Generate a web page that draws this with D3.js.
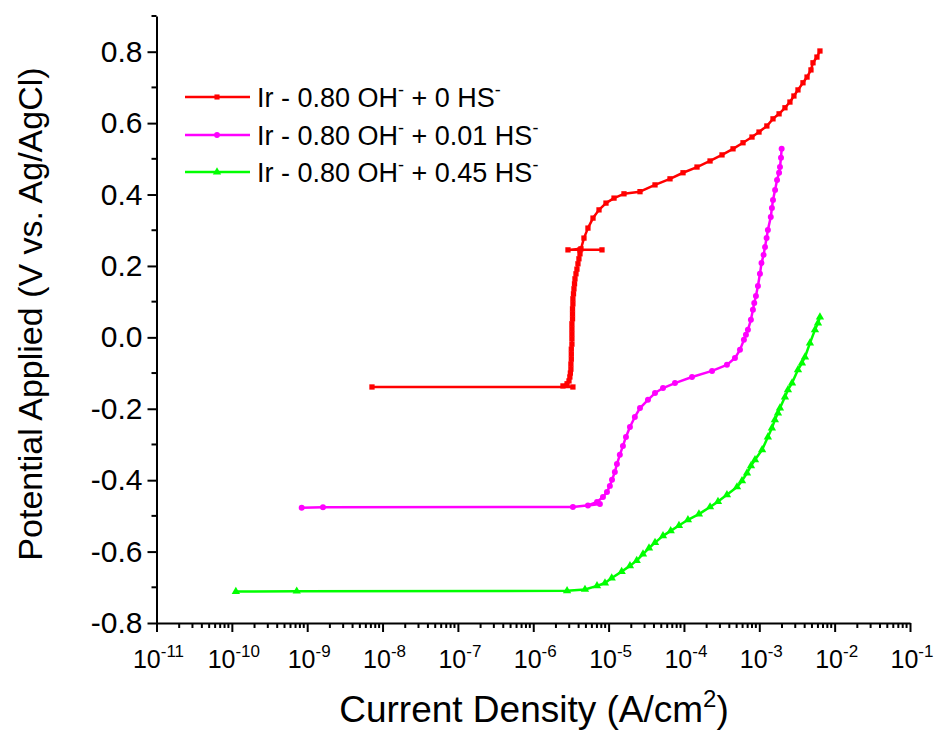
<!DOCTYPE html>
<head>
  <meta charset="utf-8">
  <title>Polarization curves</title>
</head>
<style>
  body {
    margin: 0;
    background: #fff;
  }
  svg text {
    font-family: "Liberation Sans", Arial, sans-serif;
    fill: #000;
  }
  .axis path, .axis line {
    stroke: #000;
    stroke-width: 2px;
  }
</style>
<body>
  <svg id="chart" width="935" height="731"></svg>
<script src="https://cdn.jsdelivr.net/npm/d3@7/dist/d3.min.js"></script>
<script>
  // data: current density (A/cm2) and potential (V)
  var redI = [7.24e-9, 3.36e-6, 2.48e-6, 2.81e-6, 2.98e-6, 3.06e-6, 3.11e-6, 3.16e-6, 3.16e-6, 3.20e-6,
    3.20e-6, 3.20e-6, 3.26e-6, 3.26e-6, 3.26e-6, 3.26e-6, 3.26e-6, 3.32e-6, 3.32e-6, 3.32e-6,
    3.36e-6, 3.36e-6, 3.42e-6, 3.47e-6, 3.53e-6, 3.58e-6, 3.69e-6, 3.80e-6, 3.92e-6, 4.04e-6,
    4.17e-6, 4.17e-6, 8.17e-6, 2.89e-6, 4.30e-6,
    4.71e-6, 5.32e-6, 6.21e-6, 7.46e-6, 9.23e-6, 1.18e-5, 1.60e-5, 2.61e-5, 4.13e-5, 6.53e-5,
    9.72e-5, 1.49e-4, 2.22e-4, 3.20e-4, 4.48e-4, 6.08e-4, 8.00e-4, 9.91e-4, 1.26e-3, 1.52e-3,
    1.83e-3, 2.19e-3, 2.55e-3, 2.88e-3, 3.26e-3, 3.80e-3, 4.30e-3, 4.85e-3, 5.16e-3, 5.82e-3, 6.38e-3];
  var redV = [-0.139, -0.139, -0.136, -0.130, -0.122, -0.111, -0.100, -0.089, -0.075, -0.061,
    -0.047, -0.033, -0.019, -0.004, 0.010, 0.024, 0.038, 0.052, 0.066, 0.080,
    0.094, 0.108, 0.122, 0.136, 0.150, 0.164, 0.178, 0.191, 0.206, 0.220,
    0.234, 0.245, 0.245, 0.245, 0.248,
    0.278, 0.306, 0.334, 0.357, 0.376, 0.390, 0.402, 0.408, 0.427, 0.444,
    0.461, 0.477, 0.494, 0.511, 0.528, 0.545, 0.561, 0.575, 0.592, 0.612,
    0.626, 0.643, 0.659, 0.676, 0.693, 0.713, 0.729, 0.749, 0.769, 0.785, 0.802];

  var magI = [8.45e-10, 1.62e-9, 3.36e-6, 7.67e-6, 5.32e-6, 7.02e-6, 8.42e-6, 9.51e-6, 1.04e-5, 1.11e-5,
    1.21e-5, 1.29e-5, 1.41e-5, 1.55e-5, 1.70e-5, 1.92e-5, 2.23e-5, 2.61e-5, 3.33e-5, 4.13e-5,
    5.27e-5, 7.60e-5, 1.28e-4, 2.36e-4, 3.72e-4, 4.75e-4, 5.54e-4, 6.25e-4, 6.65e-4, 7.06e-4,
    7.74e-4, 8.23e-4, 8.57e-4, 9.02e-4, 9.59e-4, 1.02e-3, 1.07e-3, 1.14e-3, 1.19e-3, 1.25e-3,
    1.30e-3, 1.42e-3, 1.47e-3, 1.52e-3, 1.62e-3, 1.72e-3, 1.83e-3, 1.88e-3, 1.94e-3, 1.98e-3];
  var magV = [-0.477, -0.476, -0.475, -0.467, -0.471, -0.461, -0.447, -0.433, -0.416, -0.399,
    -0.377, -0.355, -0.329, -0.304, -0.279, -0.251, -0.223, -0.198, -0.175, -0.156,
    -0.142, -0.128, -0.111, -0.094, -0.077, -0.058, -0.035, -0.007, 0.007, 0.021,
    0.049, 0.077, 0.096, 0.116, 0.144, 0.178, 0.208, 0.231, 0.253, 0.278,
    0.301, 0.337, 0.362, 0.385, 0.413, 0.441, 0.461, 0.477, 0.503, 0.528];

  var grnI = [1.13e-10, 7.26e-10, 2.81e-6, 4.86e-6, 7.02e-6, 8.95e-6, 1.10e-5, 1.49e-5, 1.92e-5, 2.36e-5,
    2.86e-5, 3.44e-5, 4.13e-5, 5.27e-5, 6.67e-5, 8.59e-5, 1.13e-4, 1.58e-4, 2.22e-4, 2.83e-4,
    3.72e-4, 5.06e-4, 5.89e-4, 6.87e-4, 7.76e-4, 8.77e-4, 1.09e-3, 1.30e-3, 1.47e-3, 1.61e-3,
    1.77e-3, 1.88e-3, 2.19e-3, 2.40e-3, 2.72e-3, 3.26e-3, 3.68e-3, 4.04e-3, 4.70e-3, 5.48e-3,
    6.01e-3, 6.38e-3];
  var grnV = [-0.712, -0.711, -0.710, -0.706, -0.696, -0.688, -0.674, -0.656, -0.640, -0.625,
    -0.607, -0.590, -0.575, -0.556, -0.542, -0.527, -0.511, -0.495, -0.475, -0.460,
    -0.441, -0.419, -0.402, -0.380, -0.360, -0.343, -0.315, -0.279, -0.254, -0.231,
    -0.212, -0.198, -0.167, -0.147, -0.128, -0.091, -0.072, -0.055, -0.016, 0.021,
    0.040, 0.057];

  var seriesNames = ["0", "0.01", "0.45"];
  var seriesColors = ["#ff0000", "#ff00ff", "#00ff00"];
  var seriesSymbols = [d3.symbolSquare, d3.symbolCircle, d3.symbolTriangle];

  var yMajor = [-0.8, -0.6, -0.4, -0.2, 0.0, 0.2, 0.4, 0.6, 0.8];
  var yMinor = [-0.7, -0.5, -0.3, -0.1, 0.1, 0.3, 0.5, 0.7, 0.9];
  var xExponents = [-11, -10, -9, -8, -7, -6, -5, -4, -3, -2, -1];

  var svg = d3.select("#chart");

  var xscale = d3.scaleLog().domain([1e-11, 1e-1]).range([156.5, 910]);
  var yscale = d3.scaleLinear().domain([-0.8, 0.9]).range([623, 16]);

  function translate(x, y) {
    return "translate(" + x + "," + y + ")";
  }

  // y axis
  var yAxis = svg.append("g")
    .attr("class", "axis")
    .attr("transform", translate(xscale.range()[0], 0))
    .call(d3.axisLeft(yscale).tickValues(yMajor).tickSize(9).tickSizeOuter(0)
      .tickFormat(d => d.toFixed(1)));
  yAxis.selectAll("text")
    .attr("font-size", 30)
    .attr("font-family", "Liberation Sans, Arial, sans-serif")
    .attr("x", -14);
  yAxis.append("g").selectAll("line")
    .data(yMinor)
    .enter().append("line")
      .attr("x1", 0).attr("x2", -5)
      .attr("y1", d => yscale(d)).attr("y2", d => yscale(d));

  // x axis
  var minor = [];
  xExponents.slice(0, -1).forEach(function(e) {
    for (var m = 2; m <= 9; m++) minor.push(m * Math.pow(10, e));
  });
  var xAxis = svg.append("g")
    .attr("class", "axis")
    .attr("transform", translate(0, yscale.range()[0]))
    .call(d3.axisBottom(xscale).tickValues(xExponents.map(e => Math.pow(10, e)))
      .tickSize(9).tickSizeOuter(0).tickFormat(""));
  xAxis.append("g").selectAll("line")
    .data(minor)
    .enter().append("line")
      .attr("x1", d => xscale(d)).attr("x2", d => xscale(d))
      .attr("y1", 0).attr("y2", 5);

  var xLabels = svg.append("g").selectAll("text")
    .data(xExponents)
    .enter().append("text")
      .attr("x", d => xscale(Math.pow(10, d)) + 2)
      .attr("y", 668)
      .attr("text-anchor", "middle")
      .attr("font-size", 25);
  xLabels.append("tspan").text("10");
  xLabels.append("tspan")
    .attr("font-size", 17)
    .attr("dy", -11)
    .text(d => "-" + Math.abs(d));

  // axis titles
  var xTitle = svg.append("text")
    .attr("x", 534)
    .attr("y", 722)
    .attr("text-anchor", "middle")
    .attr("font-size", 37);
  xTitle.append("tspan").text("Current Density (A/cm");
  xTitle.append("tspan").attr("font-size", 24).attr("dy", -15).text("2");
  xTitle.append("tspan").attr("dy", 15).text(")");

  svg.append("text")
    .attr("transform", translate(42, 314) + " rotate(-90)")
    .attr("text-anchor", "middle")
    .attr("font-size", 34)
    .text("Potential Applied (V vs. Ag/AgCl)");

  // curves
  var series = [
    { i: redI, v: redV },
    { i: magI, v: magV },
    { i: grnI, v: grnV }
  ];
  var line = d3.line()
    .x(d => xscale(d[0]))
    .y(d => yscale(d[1]));

  var plot = svg.append("g");
  series.forEach(function(s, k) {
    var pts = s.i.map((d, j) => [d, s.v[j]]);
    plot.append("path")
      .datum(pts)
      .attr("fill", "none")
      .attr("stroke", seriesColors[k])
      .attr("stroke-width", 2.5)
      .attr("stroke-linejoin", "round")
      .attr("d", line);
    plot.append("g").selectAll("path")
      .data(pts)
      .enter().append("path")
        .attr("transform", d => translate(xscale(d[0]), yscale(d[1])))
        .attr("d", d3.symbol().type(seriesSymbols[k]).size(k == 2 ? 30 : 28))
        .attr("fill", seriesColors[k]);
  });

  // legend
  var legend = svg.append("g");
  var legendRows = [97, 135, 172];
  seriesNames.forEach(function(name, k) {
    var y = legendRows[k];
    legend.append("line")
      .attr("x1", 185).attr("x2", 250)
      .attr("y1", y).attr("y2", y)
      .attr("stroke", seriesColors[k])
      .attr("stroke-width", 2.5);
    legend.append("path")
      .attr("transform", translate(217, y))
      .attr("d", d3.symbol().type(seriesSymbols[k]).size(k == 2 ? 30 : 26))
      .attr("fill", seriesColors[k]);
    var t = legend.append("text")
      .attr("x", 257)
      .attr("y", y + 10)
      .attr("font-size", 27);
    t.append("tspan").text("Ir - 0.80 OH");
    t.append("tspan").attr("font-size", 18).attr("dy", -11).text("-");
    t.append("tspan").attr("dy", 11).text(" + " + name + " HS");
    t.append("tspan").attr("font-size", 18).attr("dy", -11).text("-");
  });
</script>
</body>
